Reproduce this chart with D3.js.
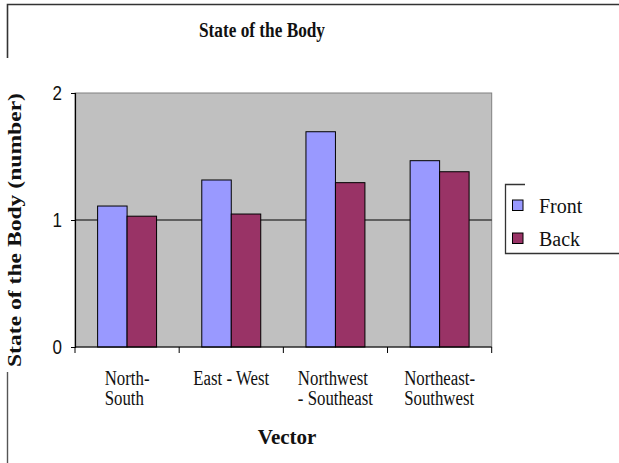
<!DOCTYPE html>
<html>
<head>
<meta charset="utf-8">
<script src="https://cdn.jsdelivr.net/npm/d3@7"></script>
<style>
  html, body { margin: 0; padding: 0; background: #fff; }
  svg { display: block; }
</style>
</head>
<body>
<svg id="chart" width="619" height="463"></svg>
<script>
// Chart data
const categories = [["North-", "South"], ["East - West"], ["Northwest", "- Southeast"], ["Northeast-", "Southwest"]];
const seriesNames = ["Front", "Back"];
const frontValues = [1.11, 1.315, 1.695, 1.467];
const backValues = [1.03, 1.047, 1.294, 1.38];
const yTicks = [0, 1, 2];
const chartTitle = "State of the Body";
const yTitle = "State of the Body (number)";
const xTitle = "Vector";

const colors = { Front: "#9999ff", Back: "#993366" };
const serif = "'Liberation Serif', 'Times New Roman', serif";
const sans = "'Liberation Sans', Arial, sans-serif";

const svg = d3.select("#chart");

// Condense a text element horizontally by a factor
function condense(sel, f) {
  sel.each(function () {
    const w = this.getComputedTextLength() * f;
    d3.select(this).attr("textLength", w).attr("lengthAdjust", "spacingAndGlyphs");
  });
}

// Plot area
const plot = { left: 75, right: 491.7, top: 93, bottom: 347 };

const catKeys = categories.map(c => c.join(" "));
const x0 = d3.scaleBand().domain(catKeys).range([plot.left, plot.right]).padding(0);
const bw = x0.bandwidth();
const groupW = bw * 0.566;
const x1 = d3.scaleBand().domain(seriesNames).range([(bw - groupW) / 2, (bw + groupW) / 2]).padding(0);
const y = d3.scaleLinear().domain([0, 2]).range([plot.bottom, plot.top]);

// Outer chart frame (partially visible)
svg.append("path")
  .attr("d", `M7.5,58 L7.5,4.5 L619,4.5`)
  .attr("fill", "none").attr("stroke", "#333").attr("stroke-width", 1.6);
svg.append("line")
  .attr("x1", 7.5).attr("x2", 7.5).attr("y1", 372).attr("y2", 463)
  .attr("stroke", "#555").attr("stroke-width", 1.4);

// Plot background
svg.append("rect")
  .attr("x", plot.left).attr("y", plot.top)
  .attr("width", plot.right - plot.left).attr("height", plot.bottom - plot.top)
  .attr("fill", "#c0c0c0").attr("stroke", "#808080").attr("stroke-width", 1);

// Gridlines (major, excluding 0)
svg.append("g").selectAll("line")
  .data(yTicks.filter(t => t > 0 && t < 2))
  .join("line")
  .attr("x1", plot.left).attr("x2", plot.right)
  .attr("y1", d => y(d)).attr("y2", d => y(d))
  .attr("stroke", "#000").attr("stroke-width", 1);

// Bars
const rows = catKeys.map((k, i) => ({ key: k, Front: frontValues[i], Back: backValues[i] }));
svg.append("g").selectAll("g")
  .data(rows)
  .join("g")
  .attr("transform", d => `translate(${x0(d.key)},0)`)
  .selectAll("rect")
  .data(d => seriesNames.map(s => ({ s, v: d[s] })))
  .join("rect")
  .attr("x", d => x1(d.s))
  .attr("width", x1.bandwidth())
  .attr("y", d => y(d.v))
  .attr("height", d => y(0) - y(d.v))
  .attr("fill", d => colors[d.s])
  .attr("stroke", "#000").attr("stroke-width", 1);

// Y axis
const yAxis = svg.append("g")
  .attr("transform", `translate(${plot.left},0)`)
  .call(d3.axisLeft(y).tickValues(yTicks).tickFormat(d3.format("d")).tickSize(4).tickPadding(9));
yAxis.select(".domain").attr("stroke", "#000").attr("stroke-width", 1.2);
yAxis.selectAll(".tick line").attr("stroke", "#000");
yAxis.selectAll(".tick text")
  .attr("font-family", sans).attr("font-size", 20).attr("fill", "#111")
  .attr("dy", "0.34em");
condense(yAxis.selectAll(".tick text"), 0.85);

// X axis with ticks at category boundaries
const xAxis = svg.append("g").attr("transform", `translate(0,${plot.bottom})`);
xAxis.append("line")
  .attr("x1", plot.left).attr("x2", plot.right).attr("y1", 0).attr("y2", 0)
  .attr("stroke", "#000").attr("stroke-width", 1.2);
const bounds = catKeys.map(k => x0(k)).concat([plot.right]);
xAxis.selectAll("line.tk")
  .data(bounds)
  .join("line").attr("class", "tk")
  .attr("x1", d => d).attr("x2", d => d).attr("y1", 0).attr("y2", 6)
  .attr("stroke", "#000");

// Category labels (wrapped lines, left aligned within a centered block)
categories.forEach((lines, i) => {
  const cx = x0(catKeys[i]) + bw / 2;
  const g = svg.append("g");
  const texts = g.selectAll("text")
    .data(lines)
    .join("text")
    .attr("y", (d, j) => 385 + j * 20)
    .attr("font-family", serif).attr("font-size", 20).attr("fill", "#111")
    .text(d => d);
  condense(texts, 0.84);
  const maxW = d3.max(texts.nodes(), n => +n.getAttribute("textLength"));
  texts.attr("x", cx - maxW / 2);
});

// Titles
svg.append("text")
  .attr("x", 262).attr("y", 37)
  .attr("text-anchor", "middle")
  .attr("font-family", serif).attr("font-weight", "bold").attr("font-size", 20)
  .attr("textLength", 126).attr("lengthAdjust", "spacingAndGlyphs")
  .attr("fill", "#111")
  .text(chartTitle);

svg.append("text")
  .attr("x", 287).attr("y", 444)
  .attr("text-anchor", "middle")
  .attr("font-family", serif).attr("font-weight", "bold").attr("font-size", 21)
  .attr("fill", "#111")
  .text(xTitle);

svg.append("text")
  .attr("transform", `translate(21,230) rotate(-90)`)
  .attr("text-anchor", "middle")
  .attr("font-family", serif).attr("font-weight", "bold").attr("font-size", 18)
  .attr("textLength", 274).attr("lengthAdjust", "spacingAndGlyphs")
  .attr("fill", "#111")
  .text(yTitle);

// Legend
const legend = svg.append("g");
legend.append("path")
  .attr("d", "M525,184.5 L505.5,184.5 L505.5,253.5 L640,253.5")
  .attr("fill", "none").attr("stroke", "#333").attr("stroke-width", 1.3);
const legRows = [{ s: "Front", y: 213 }, { s: "Back", y: 246 }];
legend.selectAll("rect")
  .data(legRows)
  .join("rect")
  .attr("x", 512.5).attr("y", d => d.y - 13)
  .attr("width", 10.5).attr("height", 10.5)
  .attr("fill", d => colors[d.s])
  .attr("stroke", "#000").attr("stroke-width", 1);
legend.selectAll("text")
  .data(legRows)
  .join("text")
  .attr("x", 539).attr("y", d => d.y)
  .attr("font-family", serif).attr("font-size", 20).attr("fill", "#111")
  .text(d => d.s);
</script>
</body>
</html>
